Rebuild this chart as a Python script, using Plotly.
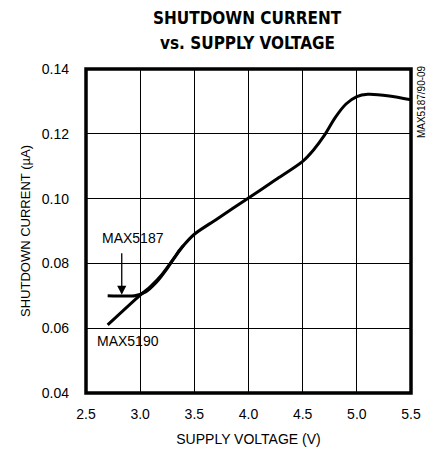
import plotly.graph_objects as go

# Data
v_5190 = [2.7, 3.0, 3.1, 3.2, 3.3, 3.4, 3.5, 3.7, 4.0, 4.25, 4.5, 4.6, 4.7, 4.8, 4.9, 5.0, 5.1, 5.3, 5.5]
i_5190 = [0.061, 0.0702, 0.0730, 0.0765, 0.0810, 0.0855, 0.0890, 0.0935, 0.1002, 0.1058, 0.1115, 0.1150,
          0.1195, 0.1250, 0.1292, 0.1315, 0.1322, 0.1317, 0.1305]
v_5187 = [2.7, 2.95, 3.05, 3.15, 3.25, 3.35, 3.4]
i_5187 = [0.070, 0.070, 0.0712, 0.0742, 0.0785, 0.0835, 0.0855]

x_ticks = [2.5, 3.0, 3.5, 4.0, 4.5, 5.0, 5.5]
y_ticks = [0.04, 0.06, 0.08, 0.10, 0.12, 0.14]

FONT = "Liberation Sans, Arial, sans-serif"
TFONT = "DejaVu Sans Condensed, DejaVu Sans, sans-serif"

fig = go.Figure()
fig.add_trace(go.Scatter(x=v_5187, y=i_5187, mode="lines",
                         line=dict(color="black", width=3, shape="spline", smoothing=0.5),
                         showlegend=False, name="MAX5187"))
fig.add_trace(go.Scatter(x=v_5190, y=i_5190, mode="lines",
                         line=dict(color="black", width=3, shape="spline", smoothing=0.8),
                         showlegend=False, name="MAX5190"))

fig.update_layout(
    width=429, height=447,
    margin=dict(l=78, r=26, t=61, b=62, autoexpand=False),
    plot_bgcolor="white", paper_bgcolor="white",
    font=dict(family=FONT, size=14, color="black"),
)
fig.update_xaxes(range=[2.5, 5.5], tickvals=x_ticks, ticktext=[f"{t:.1f}" for t in x_ticks],
                 showgrid=True, gridcolor="black", gridwidth=1, zeroline=False,
                 showline=False, ticks="", ticklabelstandoff=11, automargin=False,
                 title=dict(text="SUPPLY VOLTAGE (V)", standoff=13, font=dict(size=14)))
fig.update_yaxes(range=[0.04, 0.14], tickvals=y_ticks, ticktext=[f"{t:.2f}" for t in y_ticks],
                 showgrid=True, gridcolor="black", gridwidth=1, zeroline=False,
                 showline=False, ticks="", ticklabelstandoff=16, automargin=False,
                 title=dict(text="SHUTDOWN CURRENT (µA)", standoff=8, font=dict(size=13)))

fig.add_shape(type="rect", xref="paper", yref="paper", x0=0, y0=0, x1=1, y1=1,
              line=dict(color="black", width=3.5))

# Title (two bold lines)
fig.add_annotation(x=0.498, y=1.156, xref="paper", yref="paper", text="<b>SHUTDOWN CURRENT</b>",
                   showarrow=False, font=dict(family=TFONT, size=17), xanchor="center", yanchor="middle")
fig.add_annotation(x=0.498, y=1.080, xref="paper", yref="paper", text="<b>vs. SUPPLY VOLTAGE</b>",
                   showarrow=False, font=dict(family=TFONT, size=17), xanchor="center", yanchor="middle")

fig.add_annotation(x=2.83, y=0.0703, xref="x", yref="y", ax=0, ay=-43, axref="pixel", ayref="pixel",
                   text="", showarrow=True, arrowhead=2, arrowsize=1.4, arrowwidth=1.3, arrowcolor="black")
fig.add_annotation(x=2.934, y=0.0877, xref="x", yref="y", text="MAX5187", showarrow=False,
                   font=dict(size=14))
fig.add_annotation(x=2.89, y=0.0559, xref="x", yref="y", text="MAX5190", showarrow=False,
                   font=dict(size=14))
fig.add_annotation(x=1.031, y=0.898, xref="paper", yref="paper", text="MAX5187/90-09", showarrow=False,
                   textangle=-90, xanchor="center", yanchor="middle", font=dict(size=10))

fig.write_html("out.html")
